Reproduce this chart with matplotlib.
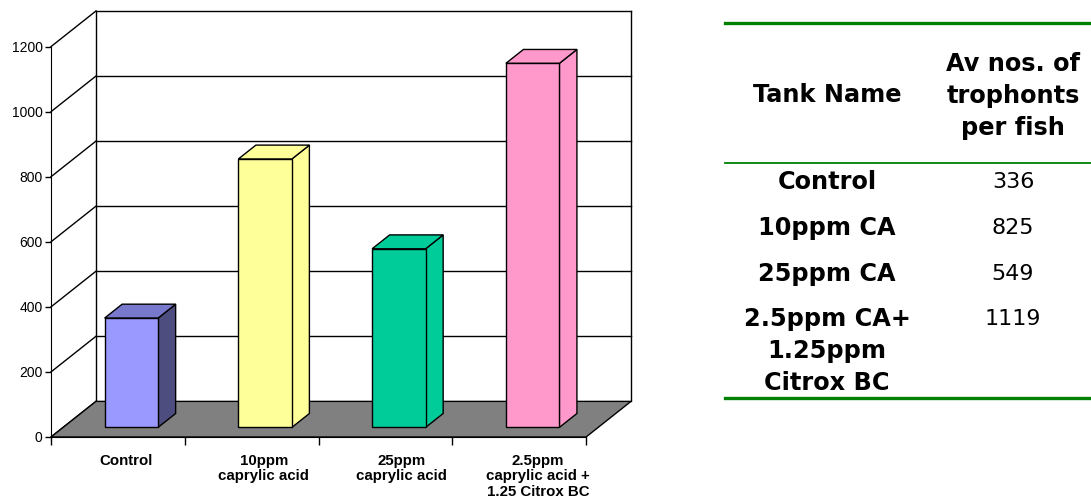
import matplotlib.pyplot as plt
from matplotlib.patches import Polygon

# chart data
categories = ['Control', '10ppm\ncaprylic acid', '25ppm\ncaprylic acid',
              '2.5ppm\ncaprylic acid +\n1.25 Citrox BC']
values = [336, 825, 549, 1119]
front_colors = ['#9999FF', '#FFFF99', '#00CC99', '#FF99CC']
side_colors = ['#4D4D80', '#FFFF99', '#00CC99', '#FF99CC']
top_colors = ['#7878CC', '#FFFF99', '#00CC99', '#FF99CC']
y_ticks = [0, 200, 400, 600, 800, 1000, 1200]

# table data
table_header = ['Tank Name', 'Av nos. of\ntrophonts\nper fish']
tank_names = ['Control', '10ppm CA', '25ppm CA', '2.5ppm CA+\n1.25ppm\nCitrox BC']
trophonts = [336, 825, 549, 1119]

W, H = 1091, 504
fig = plt.figure(figsize=(W / 100, H / 100), dpi=100)

# oblique depth offset of the 3d box (in data units)
DX, DY = 0.336, 109.5
ymax = y_ticks[-1]
n = len(values)

ax = fig.add_axes([51 / W, 67 / H, 580 / W, 426 / H])
ax.set_xlim(0, n + DX)
ax.set_ylim(0, ymax + DY)
ax.patch.set_visible(False)
for s in ['top', 'right']:
    ax.spines[s].set_visible(False)
ax.spines['left'].set_bounds(0, ymax)
ax.spines['bottom'].set_bounds(0, n)

lc = 'black'
lw = 1.0
# back wall + side wall
for v in y_ticks:
    ax.plot([0, DX], [v, v + DY], color=lc, lw=lw, zorder=1, clip_on=False)
    if v > 0:
        ax.plot([DX, n + DX], [v + DY, v + DY], color=lc, lw=lw, zorder=1,
                clip_on=False)
ax.plot([DX, DX], [DY, ymax + DY], color=lc, lw=lw, zorder=1, clip_on=False)
ax.plot([n + DX, n + DX], [DY, ymax + DY], color=lc, lw=lw, zorder=1,
        clip_on=False)

# floor
ax.add_patch(Polygon([(0, 0), (DX, DY), (n + DX, DY), (n, 0)], closed=True,
                     facecolor='#808080', edgecolor=lc, lw=lw, zorder=2,
                     clip_on=False))

# bars
z0, z1 = 0.27, 0.66
bw = 0.4
for i, v in enumerate(values):
    xc = i + 0.51
    x0, x1 = xc - bw / 2, xc + bw / 2
    ax.bar(xc + z0 * DX, v, width=bw, bottom=z0 * DY, color=front_colors[i],
           edgecolor=lc, lw=lw, zorder=4)
    side = [(x1 + z0 * DX, z0 * DY), (x1 + z1 * DX, z1 * DY),
            (x1 + z1 * DX, v + z1 * DY), (x1 + z0 * DX, v + z0 * DY)]
    top = [(x0 + z0 * DX, v + z0 * DY), (x1 + z0 * DX, v + z0 * DY),
           (x1 + z1 * DX, v + z1 * DY), (x0 + z1 * DX, v + z1 * DY)]
    ax.add_patch(Polygon(side, closed=True, facecolor=side_colors[i],
                         edgecolor=lc, lw=lw, zorder=3))
    ax.add_patch(Polygon(top, closed=True, facecolor=top_colors[i],
                         edgecolor=lc, lw=lw, zorder=3))

ax.set_yticks(y_ticks)
ax.set_yticklabels([str(t) for t in y_ticks], fontfamily='Liberation Sans', fontsize=10)
ax.tick_params(axis='y', direction='out', length=4, width=lw, pad=2)
ax.set_xticks(range(n + 1))
ax.set_xticklabels([])
ax.tick_params(axis='x', which='major', direction='out', length=6, width=lw)
ax.set_xticks([0.56, 1.59, 2.62, 3.64], minor=True)
ax.set_xticklabels(categories, minor=True, fontfamily='Liberation Sans',
                   fontweight='bold', fontsize=10.8, linespacing=1.15)
ax.tick_params(axis='x', which='minor', length=0, pad=12)

# table on the right (pixel coords overlay)
tx = fig.add_axes([0, 0, 1, 1])
tx.set_xlim(0, W)
tx.set_ylim(H, 0)
tx.axis('off')
green = '#008000'
tx.plot([725, W], [23, 23], color=green, lw=2.4)
tx.plot([725, W], [163, 163], color=green, lw=1.3)
tx.plot([725, W], [398, 398], color=green, lw=2.4)

c1, c2 = 827, 1013
tf = 'DejaVu Sans'
fs = 17.3
tx.text(c1, 95, table_header[0], ha='center', va='center', fontfamily=tf,
        fontweight='bold', fontsize=fs)
tx.text(c2, 96, table_header[1], ha='center', va='center', fontfamily=tf,
        fontweight='bold', fontsize=fs, linespacing=1.42)
row_y = [181, 227, 273, 318]
for y, name, val in zip(row_y, tank_names, trophonts):
    tx.text(c1, y - 11, name, ha='center', va='top', fontfamily=tf,
            fontweight='bold', fontsize=fs, linespacing=1.42)
    tx.text(c2, y - 9, str(val), ha='center', va='top', fontfamily=tf,
            fontsize=16)

fig.savefig('out.png', dpi=100)
